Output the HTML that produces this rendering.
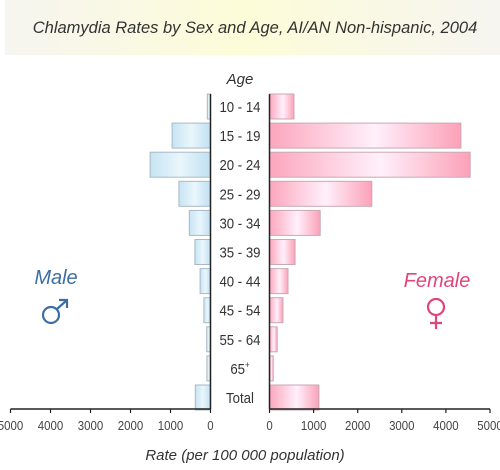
<!DOCTYPE html>
<html><head><meta charset="utf-8"><style>
body{margin:0;background:#fff;width:500px;height:465px;overflow:hidden;font-family:"Liberation Sans",sans-serif}
</style></head><body>
<svg id="chart" width="500" height="465">
<defs>
<linearGradient id="ban" x1="0" x2="1"><stop offset="0" stop-color="#f6f5f0"/><stop offset="0.48" stop-color="#fdfcd8"/><stop offset="1" stop-color="#f6f5f0"/></linearGradient>
<linearGradient id="mg" x1="0" x2="1"><stop offset="0" stop-color="#c6e4f4"/><stop offset="0.5" stop-color="#eaf6fb"/><stop offset="1" stop-color="#bfe0f3"/></linearGradient>
<linearGradient id="fg" x1="0" x2="1"><stop offset="0" stop-color="#fca6bd"/><stop offset="0.55" stop-color="#fff0fb"/><stop offset="1" stop-color="#fca1b8"/></linearGradient>
</defs>
<rect x="5" y="0" width="495" height="55" fill="url(#ban)"/>
<text x="255" y="33" text-anchor="middle" font-size="16.5" font-style="italic" fill="#333">Chlamydia Rates by Sex and Age, AI/AN Non-hispanic, 2004</text>
<text x="240" y="84" text-anchor="middle" font-size="15" font-style="italic" fill="#333">Age</text>
<g id="bars"></g>
<text x="56" y="284" text-anchor="middle" font-size="20" font-style="italic" fill="#3d6ea3">Male</text>
<g stroke="#3d6ea3" stroke-width="2.2" fill="none">
<circle cx="51" cy="315" r="8"/><path d="M57 309 L67 300 M59 300 L67 300 L67 308"/>
</g>
<text x="437" y="287" text-anchor="middle" font-size="20" font-style="italic" fill="#e2457a">Female</text>
<g stroke="#e2457a" stroke-width="2.2" fill="none">
<circle cx="436" cy="307" r="8"/><path d="M436 315 L436 329 M430 323 L442 323"/>
</g>
<text x="245" y="460" text-anchor="middle" font-size="15" font-style="italic" fill="#333">Rate (per 100 000 population)</text>
</svg>
<script>
const categories=["10 - 14","15 - 19","20 - 24","25 - 29","30 - 34","35 - 39","40 - 44","45 - 54","55 - 64","65+","Total"];
const maleRates=[80,960,1510,790,530,390,260,165,95,90,380];
const femaleRates=[555,4340,4550,2320,1150,580,420,305,175,85,1120];
const ticks=[0,1000,2000,3000,4000,5000];
const NS="http://www.w3.org/2000/svg";
const g=document.getElementById('bars');
const mx=v=>210.5-v*0.04, fx=v=>269.5+v*0.0441;
const rowY=i=>94+i*29.1, bh=25, axisY=409;
function mk(t,a){const e=document.createElementNS(NS,t);for(const k in a)e.setAttribute(k,a[k]);g.appendChild(e);return e;}
categories.forEach((c,i)=>{
  const y=rowY(i);
  const m=mk('rect',{x:mx(maleRates[i]),y:y,width:mx(0)-mx(maleRates[i]),height:bh,fill:'url(#mg)',stroke:'#a9b9c4','stroke-width':1});
  
  
  const f=mk('rect',{x:fx(0),y:y,width:fx(femaleRates[i])-fx(0),height:bh,fill:'url(#fg)',stroke:'#c9a9b3','stroke-width':1});
  
  
  const t=mk('text',{x:240,y:y+bh/2+5.5,'text-anchor':'middle','font-size':15,fill:'#333',transform:'translate(240 0) scale(0.88 1) translate(-240 0)'});
  if(c==="65+"){t.textContent="65";const s=document.createElementNS(NS,'tspan');s.setAttribute('font-size','9');s.setAttribute('dy','-6');s.textContent="+";t.appendChild(s);}
  else t.textContent=c;
  
  
});
const l1=mk('line',{x1:210.5,x2:210.5,y1:rowY(0),y2:axisY,stroke:'#222','stroke-width':1.5});


const l2=mk('line',{x1:269.5,x2:269.5,y1:rowY(0),y2:axisY,stroke:'#222','stroke-width':1.5});


const a1=mk('line',{x1:mx(5000),x2:mx(0),y1:axisY,y2:axisY,stroke:'#222','stroke-width':1.5});


const a2=mk('line',{x1:fx(0),x2:fx(5000),y1:axisY,y2:axisY,stroke:'#222','stroke-width':1.5});


ticks.forEach(v=>{
  [mx(v),fx(v)].forEach((x,j)=>{
    const tk=mk('line',{x1:x,x2:x,y1:axisY,y2:axisY+4,stroke:'#222','stroke-width':1.2});
    
    
    const tl=mk('text',{x:x,y:axisY+21,'text-anchor':'middle','font-size':13,fill:'#444',transform:`translate(${x} 0) scale(0.88 1) translate(${-x} 0)`});
    tl.textContent=v;
    
    
  });
});
</script>
</body></html>
